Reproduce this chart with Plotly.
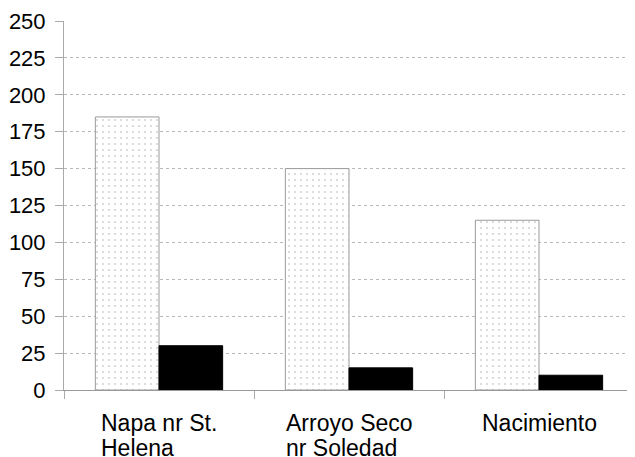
import plotly.graph_objects as go

categories = ["Napa nr St. Helena", "Arroyo Seco nr Soledad", "Nacimiento"]
label_lines = [["Napa nr St.", "Helena"], ["Arroyo Seco", "nr Soledad"], ["Nacimiento"]]
series_a = [185, 150, 115]
series_b = [30, 15, 10]
y_ticks = [0, 25, 50, 75, 100, 125, 150, 175, 200, 225, 250]

FONT = "Liberation Sans, Arial, sans-serif"

fig = go.Figure()
fig.add_trace(go.Bar(
    x=categories, y=series_a,
    marker=dict(color="white",
                line=dict(color="#9a9a9a", width=1),
                pattern=dict(shape=".", fgcolor="#a8a8a8", bgcolor="white",
                             size=6, solidity=0.1)),
    showlegend=False))
fig.add_trace(go.Bar(
    x=categories, y=series_b,
    marker=dict(color="black", line=dict(color="black", width=1)),
    showlegend=False))

for cat, lines in zip(categories, label_lines):
    txt = "<br>".join('<span style="font-size:23px">%s</span>' % s for s in lines)
    fig.add_annotation(x=cat, xref="x", y=0, yref="paper", yanchor="top",
                       xanchor="center", align="left", text=txt, showarrow=False,
                       yshift=-18, font=dict(family=FONT, size=19, color="black"))

# page body has an 8px offset, so the figure is sized to fit 635x457 window
fig.update_layout(
    width=627, height=449,
    margin=dict(l=56, r=1, t=13, b=67, pad=0),
    paper_bgcolor="white", plot_bgcolor="white",
    barmode="group", bargap=0.33, bargroupgap=0,
    font=dict(family=FONT, size=22, color="black"),
)
fig.update_xaxes(showticklabels=False, tickson="boundaries", ticks="outside",
                 ticklen=8, tickcolor="#aaaaaa", showline=True, linecolor="#999999",
                 linewidth=1, showgrid=False, automargin=False)
fig.update_yaxes(range=[0, 250], tickvals=y_ticks, ticks="outside", ticklen=8,
                 tickcolor="#aaaaaa", showline=True, linecolor="#aaaaaa", linewidth=1,
                 showgrid=True, gridcolor="#b8b8b8", griddash="dot", gridwidth=1,
                 zeroline=False, ticklabelstandoff=5, automargin=False,
                 tickfont=dict(family=FONT, size=22, color="black"))

fig.write_html("out.html")
